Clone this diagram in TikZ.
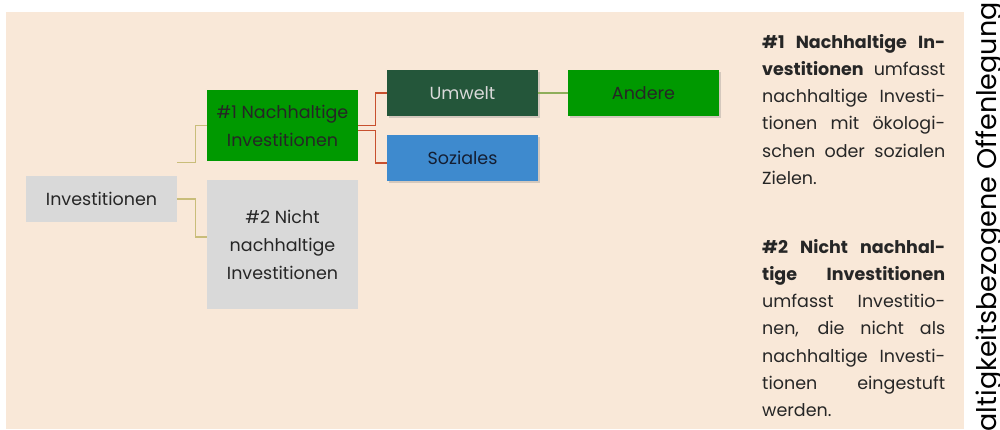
\documentclass[tikz,border=0pt]{standalone}
\usepackage{fontspec}
\setmainfont{Poppins}
\usetikzlibrary{shadows}

\definecolor{peach}{RGB}{249,232,216}
\definecolor{boxgray}{RGB}{217,217,217}
\definecolor{leafgreen}{RGB}{0,153,0}
\definecolor{darkgreen}{RGB}{36,86,58}
\definecolor{socblue}{RGB}{62,138,206}
\definecolor{tanline}{RGB}{201,189,122}
\definecolor{rustline}{RGB}{200,80,46}
\definecolor{oliveline}{RGB}{143,174,90}

\tikzset{
  box/.style={minimum width=151pt, inner sep=0pt, align=center,
    font=\fontsize{17.5}{28}\selectfont, text=black!85},
  shadowbox/.style={box, drop shadow={opacity=0.3, shadow xshift=2pt, shadow yshift=-2pt}},
  sidetext/.style={anchor=north west, inner sep=0pt, text width=183pt, align=justify,
    font=\fontsize{17.5}{27.2}\selectfont, text=black!85},
}

\begin{document}
\begin{tikzpicture}[x=1pt, y=-1pt]
        \useasboundingbox (0,0) rectangle (1000,429);
        \fill[peach] (6,12) rectangle (964,429);
        % tree
        \node[box, fill=boxgray, minimum height=46pt] (inv) at (101.5,199) {Investitionen};
        \node[box, fill=leafgreen, minimum height=71pt] (n1) at (282.5,125.5) {\#1 Nachhaltige\\Investitionen};
        \node[box, fill=boxgray, minimum height=129pt] (n2) at (282.5,244.5) {\#2 Nicht\\nachhaltige\\Investitionen};
        \node[shadowbox, fill=darkgreen, minimum height=46pt, text=boxgray] (umw) at (462.5,93) {Umwelt};
        \node[shadowbox, fill=socblue, minimum height=46pt, text={rgb,255:red,20;green,30;blue,50}] (soz) at (462.5,158) {Soziales};
        \node[shadowbox, fill=leafgreen, minimum height=46pt] (and) at (643.5,93) {Andere};
        % connectors
        \draw[tanline, line width=1.2pt] ([yshift=13pt]inv.north east) -- ++(18,0) |- (n1.west);
        \draw[tanline, line width=1.2pt] (inv.east) -- ++(18,0) |- ([yshift=7.5pt]n2.west);
        \draw[rustline, line width=1.2pt] (n1.east) -- ++(17,0) |- (umw.west);
        \draw[rustline, line width=1.2pt] ([yshift=-5pt]n1.east) -- ++(17,0) |- ([yshift=-5pt]soz.west);
        \draw[oliveline, line width=1.2pt] (umw) -- (and);
        % side text
        \node[sidetext] (p1) at (762,34)
          {\textbf{\#1 Nachhaltige In-\linebreak vestitionen} umfasst\linebreak
           nachhaltige Investi-\linebreak tionen mit ökologi-\linebreak
           schen oder sozialen\linebreak Zielen.};
        \node[sidetext] (p2) at (762,239)
          {\textbf{\#2 Nicht nachhal-\linebreak tige Investitionen}\linebreak
           umfasst Investitio-\linebreak nen, die nicht als\linebreak
           nachhaltige Investi-\linebreak tionen eingestuft\linebreak werden.};
        \node[rotate=90, anchor=base east, inner sep=0pt,
          font=\fontsize{27}{27}\selectfont] (side) at (996,2) {Nachhaltigkeitsbezogene Offenlegung};
      \end{tikzpicture}
\end{document}
